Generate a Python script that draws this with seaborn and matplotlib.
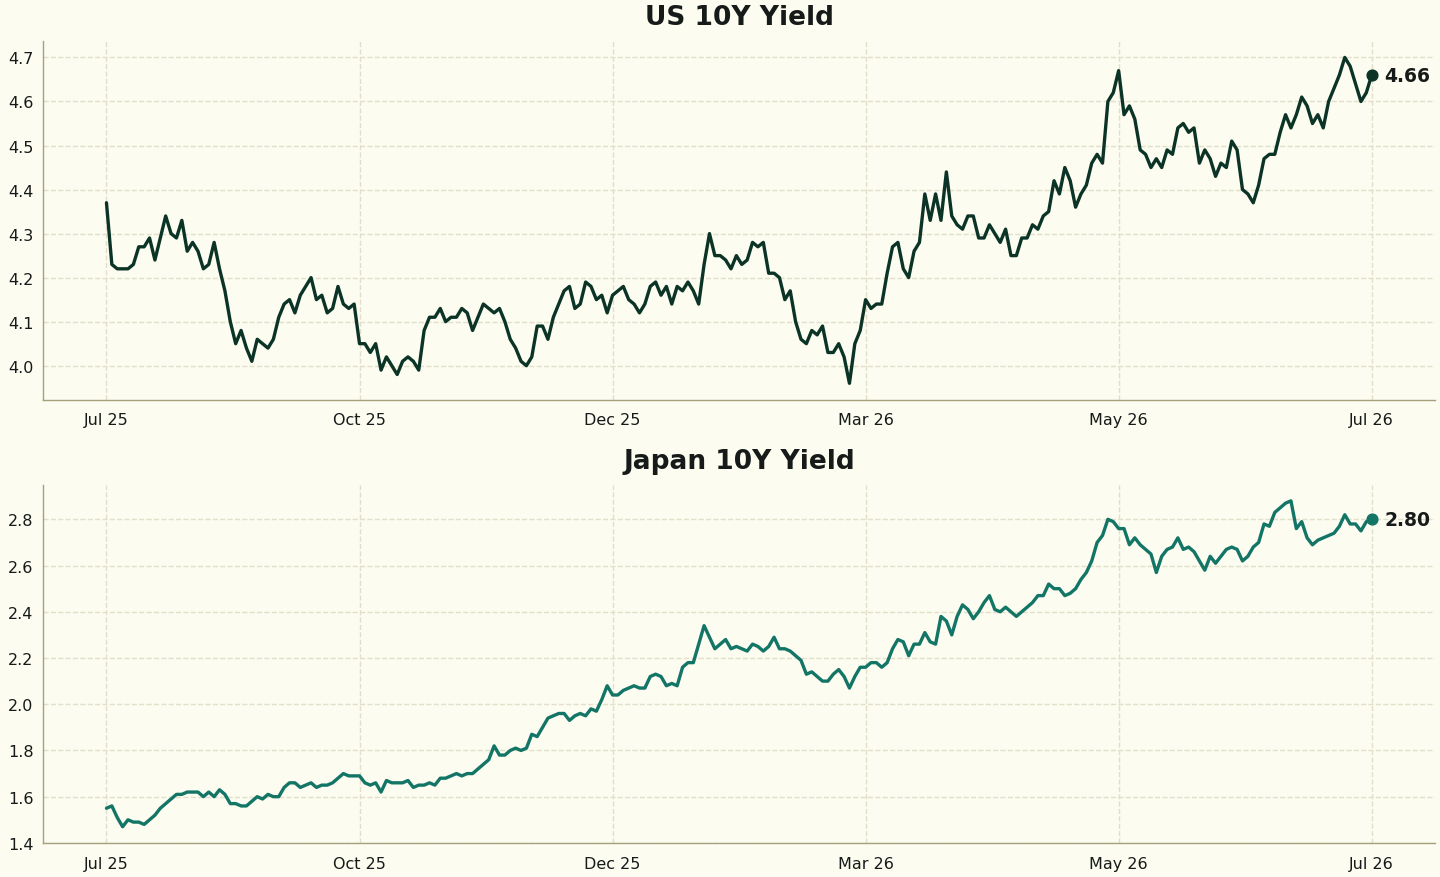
import numpy as np
import pandas as pd
import matplotlib
matplotlib.use("Agg")
import matplotlib.pyplot as plt
import seaborn as sns

tick_labels = ["Jul 25", "Oct 25", "Dec 25", "Mar 26", "May 26", "Jul 26"]

us_10y = [
    4.37, 4.23, 4.22, 4.22, 4.22, 4.23, 4.27, 4.27, 4.29, 4.24,
    4.29, 4.34, 4.30, 4.29, 4.33, 4.26, 4.28, 4.26, 4.22, 4.23,
    4.28, 4.22, 4.17, 4.10, 4.05, 4.08, 4.04, 4.01, 4.06, 4.05,
    4.04, 4.06, 4.11, 4.14, 4.15, 4.12, 4.16, 4.18, 4.20, 4.15,
    4.16, 4.12, 4.13, 4.18, 4.14, 4.13, 4.14, 4.05, 4.05, 4.03,
    4.05, 3.99, 4.02, 4.00, 3.98, 4.01, 4.02, 4.01, 3.99,
    4.08, 4.11, 4.11, 4.13, 4.10, 4.11, 4.11, 4.13, 4.12, 4.08,
    4.11, 4.14, 4.13, 4.12, 4.13, 4.10, 4.06, 4.04, 4.01, 4.00,
    4.02, 4.09, 4.09, 4.06, 4.11, 4.14, 4.17, 4.18, 4.13, 4.14,
    4.19, 4.18, 4.15, 4.16, 4.12, 4.16, 4.17, 4.18, 4.15, 4.14,
    4.12, 4.14, 4.18, 4.19, 4.16, 4.18, 4.14, 4.18, 4.17, 4.19,
    4.17, 4.14, 4.23, 4.30, 4.25, 4.25, 4.24, 4.22, 4.25,
    4.23, 4.24, 4.28, 4.27, 4.28, 4.21, 4.21, 4.20, 4.15, 4.17,
    4.10, 4.06, 4.05, 4.08, 4.07, 4.09, 4.03, 4.03, 4.05, 4.02,
    3.96, 4.05, 4.08, 4.15, 4.13, 4.14, 4.14, 4.21, 4.27, 4.28,
    4.22, 4.20, 4.26, 4.28, 4.39, 4.33, 4.39, 4.33, 4.44, 4.34,
    4.32, 4.31, 4.34, 4.34, 4.29, 4.29, 4.32, 4.30, 4.28, 4.31,
    4.25, 4.25, 4.29, 4.29, 4.32, 4.31, 4.34, 4.35, 4.42, 4.39,
    4.45, 4.42, 4.36, 4.39, 4.41, 4.46, 4.48, 4.46, 4.60, 4.62,
    4.67, 4.57, 4.59, 4.56, 4.49, 4.48, 4.45, 4.47, 4.45, 4.49,
    4.48, 4.54, 4.55, 4.53, 4.54, 4.46, 4.49, 4.47, 4.43, 4.46,
    4.45, 4.51, 4.49, 4.40, 4.39, 4.37, 4.41, 4.47, 4.48, 4.48,
    4.53, 4.57, 4.54, 4.57, 4.61, 4.59, 4.55, 4.57, 4.54, 4.60,
    4.63, 4.66, 4.70, 4.68, 4.64, 4.60, 4.62, 4.66,
]

jp_10y = [
    1.55, 1.56, 1.51, 1.47, 1.50, 1.49, 1.49, 1.48, 1.50, 1.52,
    1.55, 1.57, 1.59, 1.61, 1.61, 1.62, 1.62, 1.62, 1.60, 1.62,
    1.60, 1.63, 1.61, 1.57, 1.57, 1.56, 1.56, 1.58, 1.60, 1.59,
    1.61, 1.60, 1.60, 1.64, 1.66, 1.66, 1.64, 1.65, 1.66, 1.64,
    1.65, 1.65, 1.66, 1.68, 1.70, 1.69, 1.69, 1.69, 1.66, 1.65,
    1.66, 1.62, 1.67, 1.66, 1.66, 1.66, 1.67, 1.64, 1.65,
    1.65, 1.66, 1.65, 1.68, 1.68, 1.69, 1.70, 1.69, 1.70, 1.70,
    1.72, 1.74, 1.76, 1.82, 1.78, 1.78, 1.80, 1.81, 1.80, 1.81,
    1.87, 1.86, 1.90, 1.94, 1.95, 1.96, 1.96, 1.93, 1.95, 1.96,
    1.95, 1.98, 1.97, 2.02, 2.08, 2.04, 2.04, 2.06, 2.07, 2.08,
    2.07, 2.07, 2.12, 2.13, 2.12, 2.08, 2.09, 2.08, 2.16, 2.18,
    2.18, 2.26, 2.34, 2.29, 2.24, 2.26, 2.28,
    2.24, 2.25, 2.24, 2.23, 2.26, 2.25, 2.23, 2.25, 2.29, 2.24,
    2.24, 2.23, 2.21, 2.19, 2.13, 2.14, 2.12, 2.10, 2.10, 2.13,
    2.15, 2.12, 2.07, 2.12, 2.16, 2.16, 2.18, 2.18, 2.16, 2.18,
    2.24, 2.28, 2.27, 2.21, 2.26, 2.26, 2.31, 2.27, 2.26, 2.38,
    2.36, 2.30, 2.38, 2.43, 2.41, 2.37, 2.40, 2.44, 2.47, 2.41,
    2.40, 2.42, 2.40, 2.38, 2.40, 2.42, 2.44, 2.47, 2.47, 2.52,
    2.50, 2.50,
    2.47, 2.48, 2.50, 2.54, 2.57, 2.62, 2.70, 2.73, 2.80, 2.79,
    2.76, 2.76, 2.69, 2.72, 2.69, 2.67, 2.65, 2.57, 2.64, 2.67,
    2.68, 2.72, 2.67, 2.68, 2.66, 2.62, 2.58, 2.64, 2.61, 2.64,
    2.67, 2.68, 2.67, 2.62, 2.64, 2.68, 2.70, 2.78, 2.77, 2.83,
    2.85, 2.87, 2.88, 2.76, 2.79, 2.72, 2.69, 2.71, 2.72, 2.73,
    2.74, 2.77, 2.82, 2.78, 2.78, 2.75, 2.79, 2.80,
]

titles = ["US 10Y Yield", "Japan 10Y Yield"]
colors = ["#0b3427", "#137566"]

BG = "#fcfcf0"
GRID = "#e2dfcb"
SPINE = "#a8a07c"
TEXT = "#161a18"

sns.set_theme(style="whitegrid", rc={
    "axes.facecolor": BG,
    "figure.facecolor": BG,
    "grid.color": GRID,
    "grid.linestyle": "--",
    "grid.linewidth": 1.0,
    "axes.edgecolor": SPINE,
})
plt.rcParams["font.family"] = ["DejaVu Sans"]

fig, axes = plt.subplots(2, 1, figsize=(14.4, 8.78), dpi=100)
fig.subplots_adjust(left=0.030, right=0.9965, top=0.952, bottom=0.0387, hspace=0.237)

for ax, vals, title, color in zip(axes, [us_10y, jp_10y], titles, colors):
    n = len(vals)
    df = pd.DataFrame({"idx": np.arange(n), "val": vals})
    sns.lineplot(data=df, x="idx", y="val", ax=ax, color=color, linewidth=2.4)
    ax.scatter([df["idx"].iloc[-1]], [df["val"].iloc[-1]], color=color, s=60, zorder=5)
    ax.annotate(f"{df['val'].iloc[-1]:.2f}", (df["idx"].iloc[-1], df["val"].iloc[-1]),
                xytext=(9, 0), textcoords="offset points", va="center", ha="left",
                fontsize=13.5, fontweight="bold", color=TEXT)
    ax.set_title(title, fontsize=19, fontweight="bold", pad=12, color=TEXT)
    ax.set_xticks(np.linspace(0, n - 1, len(tick_labels)))
    ax.set_xticklabels(tick_labels)
    ax.set_xlabel("")
    ax.set_ylabel("")
    ax.tick_params(axis="x", length=0, pad=9, labelsize=11.5, labelcolor=TEXT)
    ax.tick_params(axis="y", length=0, pad=7, labelsize=11.5, labelcolor=TEXT)
    for s in ["top", "right"]:
        ax.spines[s].set_visible(False)
    for s in ["left", "bottom"]:
        ax.spines[s].set_color(SPINE)
        ax.spines[s].set_linewidth(1.0)
    ax.grid(True, axis="both", color=GRID, linestyle="--", linewidth=1.0)

fig.savefig("out.png", dpi=100, facecolor=BG)
